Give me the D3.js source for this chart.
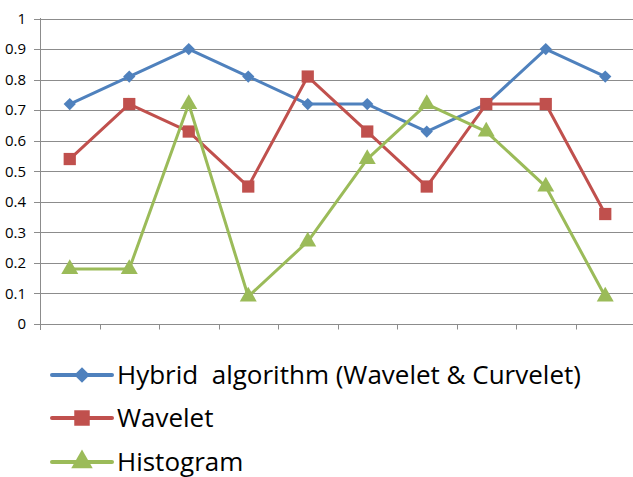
<!DOCTYPE html>
<html><head><meta charset="utf-8">
<script src="https://cdn.jsdelivr.net/npm/d3@7"></script>
<style>body{margin:0;background:#fff;}svg{display:block;} text{white-space:pre;}</style>
</head><body>
<script>
const categories = ["1","2","3","4","5","6","7","8","9","10"];
const hybrid = [0.72,0.81,0.9,0.81,0.72,0.72,0.63,0.72,0.9,0.81];
const wavelet = [0.54,0.72,0.63,0.45,0.81,0.63,0.45,0.72,0.72,0.36];
const histogram = [0.18,0.18,0.72,0.09,0.27,0.54,0.72,0.63,0.45,0.09];
const yTicks = [0,0.1,0.2,0.3,0.4,0.5,0.6,0.7,0.8,0.9,1];
const seriesNames = ["Hybrid  algorithm (Wavelet & Curvelet)","Wavelet","Histogram"];

const W=633,H=477;
const svg=d3.select("body").append("svg").attr("width",W).attr("height",H);
const x=d3.scaleBand().domain(categories).range([40,635]);
const y=d3.scaleLinear().domain([0,1]).range([324,18.5]);
const font="'Open Sans', 'Liberation Sans', sans-serif";

// gridlines
svg.append("g").selectAll("line").data(yTicks.filter(d=>d>0)).join("line")
 .attr("x1",40).attr("x2",W).attr("y1",d=>Math.round(y(d))+0.5).attr("y2",d=>Math.round(y(d))+0.5)
 .attr("stroke","#8c8c8c").attr("stroke-width",1);
// axes
const ax=svg.append("g").attr("transform","translate(0,324.5)");
ax.append("line").attr("x1",34).attr("x2",W).attr("stroke","#8c8c8c");
ax.selectAll(".t").data(categories.slice(1)).join("line")
 .attr("x1",d=>Math.round(x(d))+0.5).attr("x2",d=>Math.round(x(d))+0.5).attr("y1",0).attr("y2",5).attr("stroke","#8c8c8c");
svg.append("line").attr("x1",40.5).attr("x2",40.5).attr("y1",18).attr("y2",330).attr("stroke","#8c8c8c");
svg.append("g").selectAll("line").data(yTicks).join("line")
 .attr("x1",34).attr("x2",40).attr("y1",d=>Math.round(y(d))+0.5).attr("y2",d=>Math.round(y(d))+0.5).attr("stroke","#8c8c8c");
svg.append("g").selectAll("text").data(yTicks).join("text")
 .attr("x",26).attr("y",d=>y(d)).attr("dy","0.35em").attr("text-anchor","end")
 .attr("font-family",font).attr("font-size",15).attr("fill","#000").text(d=>d===0?"0":d===1?"1":d3.format(".1f")(d));

const colors=["#4F81BD","#C0504D","#9BBB59"];
const data=[hybrid,wavelet,histogram];
const syms=[d3.symbolSquare,d3.symbolSquare,d3.symbolTriangle];
const rots=[45,0,0];
const sizes=[75,150,125];
const line=d3.line().x((d,i)=>x(categories[i])+x.bandwidth()/2).y(d=>y(d));
data.forEach((vals,k)=>{
  svg.append("path").datum(vals).attr("d",line).attr("fill","none").attr("stroke",colors[k]).attr("stroke-width",3).attr("stroke-linejoin","round");
  svg.append("g").selectAll("path").data(vals).join("path")
   .attr("transform",(d,i)=>`translate(${x(categories[i])+x.bandwidth()/2},${y(d)}) rotate(${rots[k]})`)
   .attr("d",d3.symbol().type(syms[k]).size(sizes[k])).attr("fill",colors[k]);
});

// legend
const ly=[375,418,462];
seriesNames.forEach((n,k)=>{
  const g=svg.append("g").attr("transform",`translate(0,${ly[k]})`);
  g.append("line").attr("x1",52).attr("x2",112).attr("stroke",colors[k]).attr("stroke-width",4).attr("stroke-linecap","round");
  g.append("path").attr("transform",`translate(82,0) rotate(${rots[k]})`).attr("d",d3.symbol().type(syms[k]).size(sizes[k]*1.6)).attr("fill",colors[k]);
  g.append("text").attr("x",117).attr("dy","0.35em").attr("font-family",font).attr("font-size",26).attr("fill","#000").text(n);
});
</script>
</body></html>
